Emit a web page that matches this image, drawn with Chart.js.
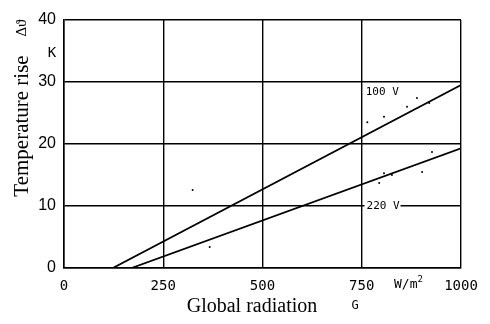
<!DOCTYPE html>
<html>
<head>
<meta charset="utf-8">
<script src="https://cdn.jsdelivr.net/npm/chart.js@4.4.1/dist/chart.umd.min.js"></script>
<style>
  html, body { margin: 0; padding: 0; background: #fff; }
  #wrap { width: 490px; height: 324px; }
</style>
</head>
<body>
<div id="wrap"><canvas id="rise-chart" width="490" height="324"></canvas></div>
<script>
  // Temperature rise vs. global radiation, two supply voltages
  const xTicks = [0, 250, 500, 750, 1000];
  const yTicks = [0, 10, 20, 30, 40];

  // fitted lines (start on the zero axis, end at 1000 W/m2)
  const line100X = [123, 1000];
  const line100Y = [0, 29.5];
  const line220X = [170, 1000];
  const line220Y = [0, 19.3];

  // scattered measurement points around the lines
  const pointsX = [889, 920, 864, 806, 764, 324, 367, 806, 902, 794, 927, 826];
  const pointsY = [27.4, 26.6, 26.0, 24.4, 23.5, 12.6, 3.4, 15.3, 15.5, 13.7, 18.7, 15.0];

  const toXY = (xs, ys) => xs.map((x, i) => ({ x: x, y: ys[i] }));

  const ink = '#000';
  const serif = '"Liberation Serif", "DejaVu Serif", serif';
  const mono = '"DejaVu Sans Mono", monospace';

  // extra labels: axis titles, units and line names
  const labelPlugin = {
    id: 'labels',
    afterDraw(chart) {
      const c = chart.ctx;
      const xs = chart.scales.x, ys = chart.scales.y;
      c.save();
      c.fillStyle = ink;
      c.textBaseline = 'middle';

      // rotated y title
      c.save();
      c.translate(22, 126);
      c.rotate(-Math.PI / 2);
      c.font = '21px ' + serif;
      c.textAlign = 'center';
      c.fillText('Temperature rise', 0, 0);
      c.restore();

      c.save();
      c.translate(22, 28);
      c.rotate(-Math.PI / 2);
      c.font = '15px ' + serif;
      c.textAlign = 'center';
      c.fillText('\u0394\u03d1', 0, 0);
      c.restore();

      c.font = '14px ' + mono;
      c.textAlign = 'center';
      c.fillText('K', 52, 53);

      // x title and units
      c.font = '20px ' + serif;
      c.fillText('Global radiation', 252, 307);
      c.font = '12px ' + mono;
      c.fillText('G', 355, 306);
      c.textAlign = 'left';
      c.font = '13px ' + mono;
      c.fillText('W/m', 394, 285);
      const w = c.measureText('W/m').width;
      c.font = '9px ' + mono;
      c.fillText('2', 394 + w, 280);

      // line names
      c.font = '11px ' + mono;
      c.fillText('100 V', xs.getPixelForValue(760), ys.getPixelForValue(28.4));
      const lx = xs.getPixelForValue(757), ly = ys.getPixelForValue(10);
      c.fillStyle = '#fff';
      c.fillRect(lx, ly - 6, 36, 12);
      c.fillStyle = ink;
      c.fillText('220 V', lx + 2, ly);
      c.restore();
    }
  };

  new Chart(document.getElementById('rise-chart'), {
    type: 'scatter',
    data: {
      datasets: [
        {
          label: '100 V',
          data: toXY(line100X, line100Y),
          showLine: true,
          borderColor: ink,
          borderWidth: 1.8,
          pointRadius: 0
        },
        {
          label: '220 V',
          data: toXY(line220X, line220Y),
          showLine: true,
          borderColor: ink,
          borderWidth: 1.8,
          pointRadius: 0
        },
        {
          label: 'measured',
          data: toXY(pointsX, pointsY),
          backgroundColor: ink,
          borderWidth: 0,
          pointRadius: 1
        }
      ]
    },
    options: {
      responsive: false,
      animation: false,
      layout: { padding: { left: 0, right: 29, top: 20, bottom: 0 } },
      plugins: {
        legend: { display: false },
        tooltip: { enabled: false }
      },
      scales: {
        x: {
          type: 'linear',
          min: 0,
          max: 1000,
          afterBuildTicks: s => { s.ticks = xTicks.map(v => ({ value: v })); },
          afterFit: s => { s.height = 56; },
          border: { color: ink, width: 1.5 },
          grid: { color: ink, lineWidth: 1.4, drawTicks: false },
          ticks: {
            color: ink,
            padding: 10,
            maxRotation: 0,
            callback: v => String(v),
            font: { family: mono, size: 14 }
          }
        },
        y: {
          type: 'linear',
          min: 0,
          max: 40,
          afterBuildTicks: s => { s.ticks = yTicks.map(v => ({ value: v })); },
          afterFit: s => { s.width = 64; },
          border: { color: ink, width: 1.5 },
          grid: { color: ink, lineWidth: 1.4, drawTicks: false },
          ticks: {
            color: ink,
            padding: 8,
            callback: v => String(v),
            font: { family: '"Liberation Sans", Arial, sans-serif', size: 16 }
          }
        }
      }
    },
    plugins: [labelPlugin]
  });
</script>
</body>
</html>
